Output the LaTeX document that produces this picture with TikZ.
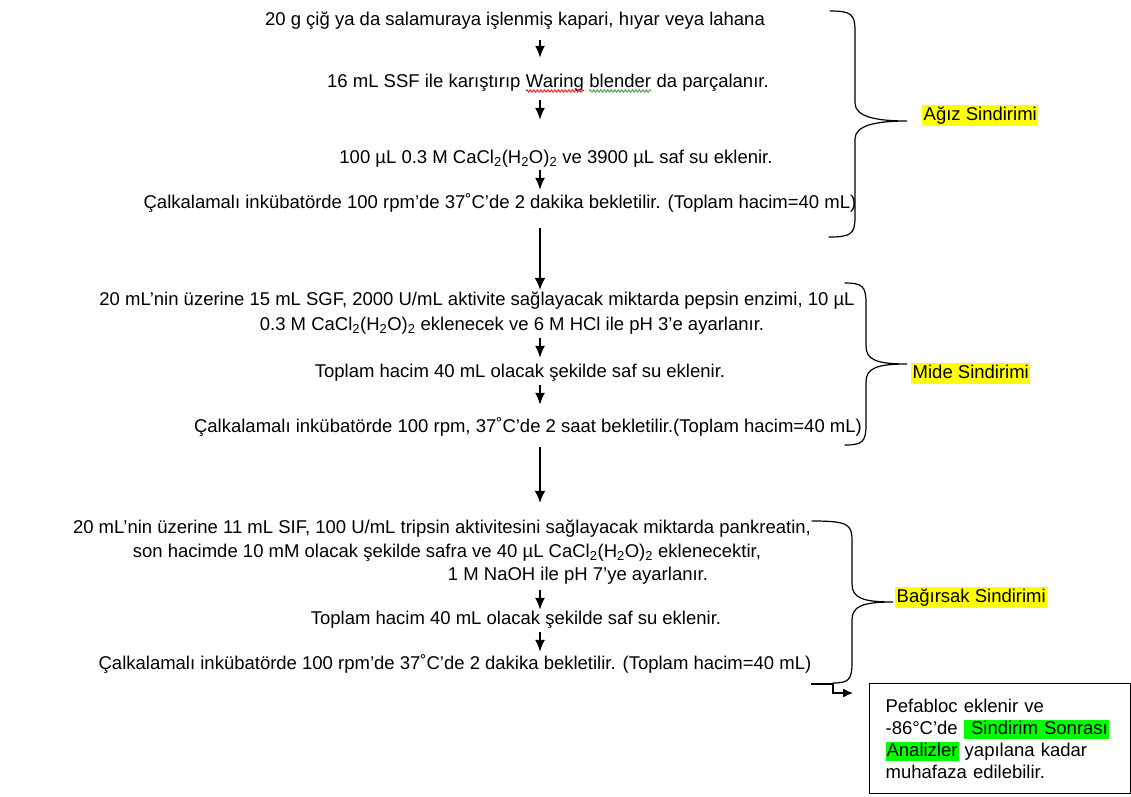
\documentclass[tikz,border=0pt]{standalone}
\usepackage{fontspec}
\setmainfont{Liberation Sans}
\usetikzlibrary{arrows.meta,decorations.pathmorphing}
\definecolor{hlyellow}{rgb}{1,1,0}
\definecolor{hlgreen}{rgb}{0,1,0}
\definecolor{spellgreen}{rgb}{0.2,0.6,0.2}
\newcommand\hlg[1]{{\setlength{\fboxsep}{1pt}\colorbox{hlgreen}{\vphantom{Ağ}#1}}}
\newcommand\cacl{CaCl\textsubscript{2}(H\textsubscript{2}O)\textsubscript{2}}
\newcommand\mainfs{\fontsize{18.5}{24}\selectfont}
% brace: xtop, xbot, xm, xtip, ytop, ytip, ybot
\newcommand\kbrace[7]{%
  \draw[brc] (#1,#5) .. controls (#3-4,#5) and (#3,#5+3) .. (#3,#5+20) -- (#3,#6-18)
    .. controls (#3,#6-4) and (#4-30,#6) .. (#4,#6)
    .. controls (#4-30,#6) and (#3,#6+4) .. (#3,#6+18) -- (#3,#7-20)
    .. controls (#3,#7-3) and (#3-4,#7) .. (#2,#7);}

\begin{document}
\begin{tikzpicture}[x=1pt,y=-1pt,
  txt/.style={font=\mainfs, inner sep=0pt, text height=14pt, text depth=4pt},
  lbl/.style={txt, fill=hlyellow, inner sep=1.5pt, anchor=west},
  arrs/.style={-{Latex[length=12pt,width=10pt]}, line width=1.6pt},
  arrl/.style={-{Latex[length=12pt,width=11pt]}, line width=1.7pt},
  brc/.style={line width=1.2pt, line cap=round},
  wave/.style={line width=0.8pt, decorate, decoration={snake, segment length=3.5pt, amplitude=1.2pt}},
  kutu/.style={draw, line width=1.2pt, minimum width=261pt, minimum height=110pt,
    text width=229pt, inner xsep=16pt, align=left, font=\fontsize{18.5}{22}\selectfont}]
\useasboundingbox (0,0) rectangle (1131,796);
\coordinate (ax) at (540,0);
% agiz sindirimi
\node[txt] (t1) at (515,20) {20 g çiğ ya da salamuraya işlenmiş kapari, hıyar veya lahana};
\node[txt, anchor=west] (t2a) at (327,82) {16 mL SSF ile karıştırıp};
\node[txt, anchor=base west] (t2w) at ([xshift=5.1pt]t2a.base east) {Waring};
\node[txt, anchor=base west] (t2b) at ([xshift=5.1pt]t2w.base east) {blender};
\node[txt, anchor=base west] (t2c) at ([xshift=5.1pt]t2b.base east) {da parçalanır.};
\draw[wave, red] ([yshift=-4pt]t2w.base west) -- ([yshift=-4pt]t2w.base east);
\draw[wave, spellgreen] ([yshift=-4pt]t2b.base west) -- ([yshift=-4pt]t2b.base east);
\node[txt] (t3) at (556,158) {100 µL 0.3 M \cacl{} ve 3900 µL saf su eklenir.};
\node[txt] (t4) at (500,203) {Çalkalamalı inkübatörde 100 rpm’de 37˚C’de 2 dakika bekletilir. (Toplam hacim=40 mL)};
\kbrace{830}{829}{855}{907}{11}{121}{237}
\node[lbl] (agiz) at (922,115) {Ağız Sindirimi};
% mide sindirimi
\node[txt] (m1a) at (477,300) {20 mL’nin üzerine 15 mL SGF, 2000 U/mL aktivite sağlayacak miktarda pepsin enzimi, 10 µL};
\node[txt] (m1b) at (512,325) {0.3 M \cacl{} eklenecek ve 6 M HCl ile pH 3’e ayarlanır.};
\node[txt] (m2) at (520,372) {Toplam hacim 40 mL olacak şekilde saf su eklenir.};
\node[txt] (m3) at (528,427) {Çalkalamalı inkübatörde 100 rpm, 37˚C’de 2 saat bekletilir.(Toplam hacim=40 mL)};
\kbrace{845}{845}{866}{907}{283}{364}{445}
\node[lbl] (mide) at (911,373) {Mide Sindirimi};
% bagirsak sindirimi
\node[txt] (b1a) at (442,528) {20 mL’nin üzerine 11 mL SIF, 100 U/mL tripsin aktivitesini sağlayacak miktarda pankreatin,};
\node[txt] (b1b) at (447,552) {son hacimde 10 mM olacak şekilde safra ve 40 µL \cacl{} eklenecektir,};
\node[txt] (b1c) at (578,575) {1 M NaOH ile pH 7’ye ayarlanır.};
\node[txt] (b2) at (516,619) {Toplam hacim 40 mL olacak şekilde saf su eklenir.};
\node[txt] (b3) at (455,664) {Çalkalamalı inkübatörde 100 rpm’de 37˚C’de 2 dakika bekletilir. (Toplam hacim=40 mL)};
\kbrace{812}{833}{852}{893}{521}{602}{683}
\node[lbl] (bag) at (895,597) {Bağırsak Sindirimi};
% arrows
\foreach \a/\b/\s/\e/\k in {t1/t2w/11/15/arrs, t2w/t3/9/29/arrs, t3/t4/3/4/arrs,
    t4/m1a/16/1/arrl, m1b/m2/4/5/arrs, m2/m3/4/13/arrs, m3/b1a/11/16/arrl,
    b1c/b2/6/0/arrs, b2/b3/4/3/arrs}
  \draw[\k, shorten <=\s pt, shorten >=\e pt] (\a.south -| ax) -- (\b.north -| ax);
% son kutu
\node[kutu, anchor=north west] (kutu) at (869,683) {Pefabloc eklenir ve\\
  \mbox{-86°C’de \hlg{ Sindirim Sonrası}}\\
  \mbox{\hlg{Analizler} yapılana kadar}\\
  muhafaza edilebilir.};
\coordinate (pk) at (811,684);
\draw[-{Latex[length=10pt,width=9pt]}, line width=1.3pt, shorten >=16pt]
  (pk) -- ++(22,0) |- ([yshift=-10pt]kutu.north west);
\end{tikzpicture}
\end{document}
